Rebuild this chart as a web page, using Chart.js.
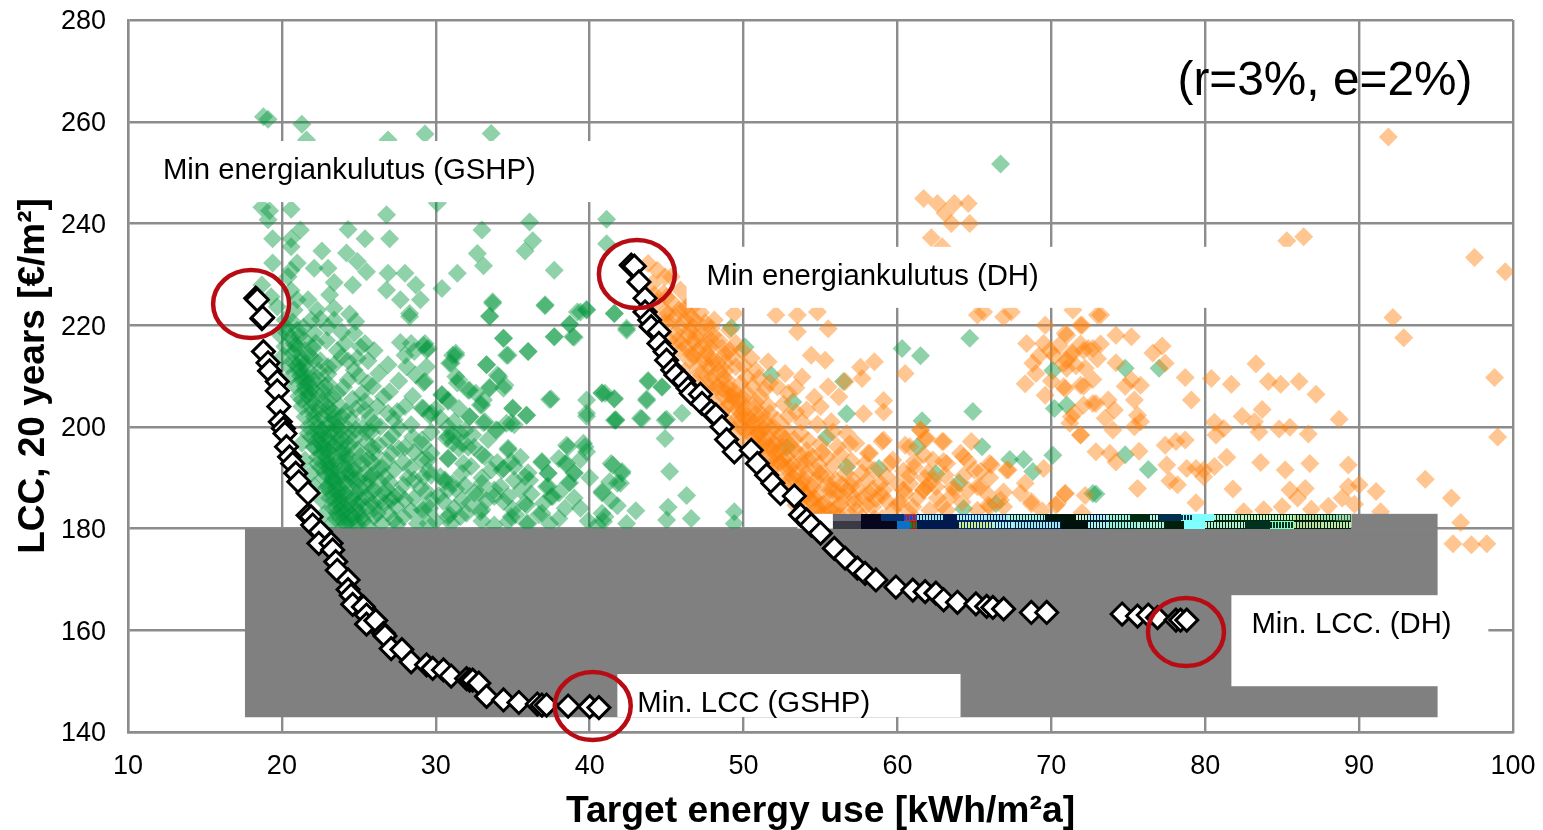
<!DOCTYPE html>
<html><head><meta charset="utf-8">
<style>html,body{margin:0;padding:0;background:#fff;overflow:hidden}canvas{display:block}</style>
<script src="https://cdn.jsdelivr.net/npm/chart.js@4"></script>
</head><body><canvas id="c" width="1543" height="830"></canvas>
<script>
const xTicks=[10,20,30,40,50,60,70,80,90,100];
const yTicks=[140,160,180,200,220,240,260,280];
const xTitle='Target energy use [kWh/m²a]';
const yTitle='LCC, 20 years [€/m²]';
const gshpCloud=[[18.8,261],[19.1,260.5],[21.3,259.5],[21.6,256.4],[26.9,256.4],[29.3,257.6],[33.6,257.7],[18.7,243.2],[19.2,242.5],[20.6,242.8],[26.8,241.7],[30.1,244],[19.1,240.7],[36.1,240.3],[41.1,240.8],[19.4,237],[20.6,237],[21.2,238.7],[20.6,235.4],[24.3,238.8],[25.4,237],[27,237],[33,238.7],[36.3,236.6],[35.8,234.6],[41.1,236],[22.6,234.6],[24.2,234.2],[32.7,234.1],[19.4,232.2],[20.6,230.8],[21,232.2],[22.1,231.2],[23,231.2],[24.9,232.5],[25.5,230.5],[33.1,231.7],[37.7,230.8],[20.4,229.5],[26.9,230.2],[28,230.2],[31.4,230.2],[23.4,228.4],[24.6,227.9],[26.8,226.9],[28.7,227.9],[30.4,227.2],[18.7,227.9],[19.3,225.6],[21,225],[21.7,225],[23.1,226],[27.7,225],[29,225],[33.7,224.6],[37.1,224],[39.8,223.1],[39.2,222.6],[19.7,223.6],[20.8,223],[22.3,223],[23.4,223.3],[28.3,222.3],[33.5,221.7],[41.6,222.3],[21.9,221],[23.4,221],[28.3,221.7],[38.7,220.2],[24.8,220.7],[21,219],[24.7,218.4],[34.4,217.4],[37.7,217.7],[39,217.6],[42.4,219],[21.5,217],[20.8,216.4],[22.1,218.4],[25.4,216.4],[24.1,216.4],[28.4,216.4],[29.2,216],[26,215],[20.2,215.8],[21.5,215],[28,214.1],[28.6,214.8],[29.5,215.4],[31.3,214.1],[34.7,214.1],[36,214.8],[22.1,213.2],[23.9,213.8],[24.9,213.5],[26.9,212.2],[28.1,211.8],[29.4,211.8],[30.9,212.5],[33.3,212.2],[20.8,212.5],[21.7,211.2],[23,211.8],[24.7,211.2],[31.3,209.9],[34,210.2],[21.3,209.2],[22.3,209.5],[24.3,209.2],[25.6,208.6],[29.2,208.7],[31.4,208.6],[34.5,208.2],[33.5,207.6],[21.5,207.2],[22.3,206.6],[23.6,206.6],[25.2,206.6],[26.6,205.9],[32.1,207.2],[30.4,206.3],[37.5,205.5],[40.8,206.6],[41.6,205.6],[21.3,205.3],[23,202.7],[23.9,202],[24.5,201.4],[25.4,203.3],[26.9,202.7],[28,204],[29.1,203.7],[29.7,202.7],[30.8,205.3],[33,204.3],[35,203.7],[35.9,202.3],[39.8,202.7],[32.2,202],[41.7,201.4],[26,200.7],[27.3,201.4],[28.4,200.4],[30.8,200],[33.2,201],[33.9,199.4],[34.9,200.7],[21.7,198.7],[22.6,199.4],[23.4,198.7],[24.3,198.1],[25.2,199.7],[26.9,197.4],[28,196],[29.1,197.4],[30.8,198.1],[31.7,196.8],[32.5,196],[34.7,195.5],[38.6,196.1],[39.7,196.1],[21.3,196.8],[22.1,196.1],[23,195.5],[23.9,194.8],[24.9,195.5],[26,194.8],[27.1,194.8],[29.1,193.5],[30.8,193.8],[33,194.5],[36.9,193.2],[38.4,192.8],[41.4,192.8],[21.5,193.5],[22.3,192.8],[23.2,192.8],[24.1,192.2],[25.2,192.8],[26.2,191.5],[27.3,191.5],[29.5,191.5],[31.7,190.9],[34.3,191.5],[35.1,192.2],[37.3,190.9],[39,190.9],[42.1,190.9],[21.9,190.9],[22.8,190.9],[23.6,190.2],[24.5,190.2],[25.6,189.6],[26.7,190.2],[28.6,189.6],[30.6,189.6],[33,188.9],[33.8,187.6],[35.8,190.2],[40.8,187.3],[41.8,188.9],[22.1,188.3],[23,188.3],[23.9,187.6],[24.9,187],[26,187.6],[27.3,186.3],[29.1,183.7],[30.8,187.6],[32.5,187],[34.7,186.3],[37.3,188.3],[38.6,188.9],[22.6,185.6],[23.4,185.6],[24.3,185],[25.4,184.3],[26.7,185],[28,185.6],[29.7,185.6],[31.7,185.6],[33,183.7],[35.8,185],[37.5,186.3],[22.8,183],[23.6,183],[24.7,182.3],[26,182.3],[27.3,181.7],[28.8,181],[30.8,182.3],[34.9,182.3],[36.7,182.7],[41,182.3],[40.5,180.7],[23.2,180.7],[24.1,180.7],[25.6,180.4],[33.8,180.7],[36,181],[19.9,218],[20.1,214],[20.4,212],[20.6,210],[20.9,208],[21.1,206],[21.3,204],[21.5,202],[21.7,200],[21.9,198],[22.1,196],[22.3,194],[22.5,192],[22.7,190],[22.9,188],[23.1,186],[23.3,184],[23.5,182],[20.7,214.5],[21,212],[21.2,210],[21.5,208],[21.7,206],[21.9,204],[22.1,202],[22.3,200],[22.5,198],[22.7,196],[22.9,194],[23.1,192],[23.3,190],[23.5,188],[23.7,186],[23.9,184],[24.1,182],[22.4,203.5],[23.2,200.5],[23.8,199.4],[22.9,198],[23.5,196.8],[24.4,196.4],[24.1,193.7],[24.7,191.5],[24.2,188.8],[25,188.2],[25.2,185.5],[24.9,183.5],[33.7,224.3],[33.5,221.8],[37.1,223.8],[39.4,222.6],[39.8,223],[41.6,222.3],[38.7,220.2],[42.4,219.4],[37.7,217.7],[38.9,217.7],[34.4,217.4],[34.6,214.1],[36,214.8],[29.3,216.4],[29.4,215.1],[31.1,214.1],[31.3,214.5],[31,212.5],[33.3,212.2],[34.1,209.9],[31.5,209.2],[29.3,208.9],[34.4,207.6],[33.5,207.8],[32.2,207.2],[43.8,209.1],[44.7,207.8],[30.4,206.3],[30.8,205],[32.6,206.6],[33.1,205.3],[37.4,205.4],[39.8,205.3],[40.8,206.7],[41.6,205.5],[43.7,205.5],[32.9,204.3],[35,203.6],[29.2,203.6],[32.2,202],[35.9,202.3],[29.6,202.3],[30.3,201.7],[33.1,200.8],[34.6,200.7],[35.1,200.4],[34,199.4],[39.8,202.1],[41.7,201.3],[43.3,201.7],[45,201.5],[46,202.7],[44.9,197.7],[31.1,198.4],[31.6,198.7],[30.7,197.7],[32.4,198.4],[31.1,196.8],[29.2,196.4],[34.7,195.8],[38.5,196.4],[39.6,196.8],[39.8,195.1],[31.5,195.8],[30.8,193.8],[33.2,194.1],[29.5,193.5],[31.8,192.8],[32.3,192.2],[34.9,193.2],[36.9,193],[38.5,192.8],[39.4,193.6],[41.5,192.5],[42.1,191.2],[45.2,191.2],[33.6,191.5],[34.4,191.8],[37.3,190.9],[39,191],[30.3,190.2],[29.2,190.2],[35.1,189.5],[36.1,189.5],[41.3,189.2],[42,188.9],[38.7,189],[30.6,189.2],[31.1,188.9],[37.2,188.2],[32.8,186.9],[35.5,187.6],[40.8,187],[46.3,186.5],[29.4,187.3],[33.8,186.3],[37.6,186.3],[34.4,185.3],[30.5,185.3],[38.4,184],[35.9,184.6],[32.9,183.3],[45.1,184.2],[29.2,183.6],[30.9,182.7],[31.6,182.3],[35.2,182.7],[36.9,183],[46.6,182],[40.8,183],[45,181.7],[40.9,181.4],[42.4,181],[37.4,181],[34.7,181.4],[35.9,181],[43.8,208.9],[44.7,207.9],[41,206.6],[43.7,205.2],[41.6,201.3],[43.4,201.6],[44.9,201.3],[49.4,183.3],[49.4,181],[50.1,215.7],[51.8,210.2],[53.2,204.9],[56.5,208.9],[56.7,202.6],[55.4,198],[52.8,196],[58.8,191.8],[56.7,192.1],[61.3,196.1],[61.6,201.2],[64.9,203],[60.3,215.4],[61.5,214],[64.7,217.4],[65.5,196.1],[67.3,193.6],[68.2,193.6],[68.8,191.2],[70.1,194.4],[64,189],[62.5,190.8],[70.2,203.6],[71,204.3],[70.1,211.1],[72.7,186.9],[64.3,183.9],[66.4,184.9],[74.8,211.5],[77,211.5],[74.8,194.5],[76.3,191.6],[72.9,186.8],[66.7,251.7],[49.2,219.5],[61.3,231.5]];
const gshpDense=[[20.9,216],[21.3,213.5],[21.8,214],[21.1,211],[21.6,209.5],[22.4,211],[22.8,208],[21.9,207.5],[22.6,205],[23.3,206],[22,205],[23,203.8],[23.8,204],[22.6,202],[23.4,201.8],[24.2,203],[24.8,199.5],[22.9,200.4],[23.6,200],[24.3,199.6],[25.8,199],[26.4,200],[22.3,197.4],[23.1,197],[23.9,196.8],[24.7,197.5],[25.5,197],[26.3,196.5],[27.2,198.4],[28.5,198],[22.6,194.9],[23.4,194.3],[24.3,193.6],[25.1,194.2],[25.9,193],[26.8,193.4],[27.9,193],[28.4,192],[22.9,192.3],[23.7,191.5],[24.6,192],[25.4,191],[26.2,189.7],[27,189],[27.9,188.5],[29,188],[23.3,189.6],[24.1,189],[25,189.6],[25.8,187.2],[26.6,187],[27.6,186.8],[28.6,186],[23.1,187.6],[23.8,186.5],[24.6,185.8],[25.5,186.2],[26.4,185.4],[27.4,184.4],[28.4,183.5],[29.6,184],[23.5,184.4],[24.2,183.7],[25.1,183],[26,184],[26.9,183],[27.9,182.3],[30,181.5],[23.8,182],[24.6,181],[25.3,181.6],[26.5,181],[27.5,180.8],[29.5,181],[31,181],[32,183],[33,181.5],[32.2,185],[33.3,185.5],[31.2,184],[30.2,186.5],[31.3,187.8],[28.2,190],[29.7,190.5],[27.6,195.7],[29.7,194.8],[28.6,195],[25.7,201.8],[27.6,199.8],[29.7,199],[31.2,201],[31.9,199.3],[30,203.5],[31.5,203.6],[27.5,203],[26.2,204],[24.6,205.5],[25.9,208],[27,206.9],[28.5,206],[24,207.8],[25,210],[26.3,210.5],[27.6,209],[28.7,210.2],[23.4,212.2],[24.3,213],[25.6,213],[23.6,215],[25.1,215.7],[27.7,216.6],[22.9,217],[22,215.5],[23.9,218.6],[23,219.6],[22.5,221.2],[24.4,222.2],[20.6,226.8],[20.2,221],[20.3,218.5],[32.1,196],[33.4,197.5],[33,190],[31.9,188.5],[34.2,188.2],[35,183.8],[37,185],[38,187],[39,186],[36.2,186.8],[38,182],[39.4,184],[39.9,181.5],[41.8,184.5],[43,183.5],[41.4,185.5],[40,190],[38,193.8],[36,191],[35.5,194],[34,193]];
const gshpCore=[[20.3,219.5],[20.6,217.5],[20.9,215],[21.2,212.7],[21.4,210.6],[21.7,208.6],[21.8,206.6],[22,203],[22.2,200.8],[22.4,198.6],[22.6,196.6],[22.8,195],[23,192.9],[23.2,191],[23.4,189],[23.6,187],[23.8,185],[24,183],[24.2,181],[22.7,206.8],[23,205],[23.3,203],[23.6,201],[23.8,198],[24,195.7],[24.2,194.5],[24.4,191],[24.6,189.5],[24.8,187],[24.9,184.8],[25.2,182.2],[24.9,180.8],[23.1,198.8],[23.4,196],[23.6,193],[23.9,190.5],[24.1,186.8],[24.4,184.5],[24.5,182.6],[25.6,193.8],[25.8,190.4],[25.9,185],[26.2,183],[25.5,188.6],[23,208.5],[22.5,213],[22.2,216.5],[23,210.4],[24.8,203.5],[25.4,205],[25.9,196],[25.5,199],[26.5,192],[26.8,187.8],[27.1,185.6],[22.1,209],[21.5,212.4],[21.1,217.8],[20.7,220.6],[21.4,219.6]];
const dhCloud=[[61.7,244.9],[62.6,243.9],[63.7,243.9],[64.6,243.9],[63.1,242],[63.5,240],[64.7,240],[62.2,237.2],[62.9,235.4],[43.8,232.1],[44.4,230.8],[44.9,229.5],[45.3,229.5],[44.1,228.2],[45.9,226.9],[44.8,226.2],[45.4,224.3],[46.3,223.6],[46.2,221],[46.7,219.7],[45.1,222.3],[45.9,219.7],[47.2,217.7],[46.6,221.6],[48.1,221],[49.4,222.3],[49.1,219],[52.1,222],[53.5,222],[54.8,222.6],[53.5,218.7],[55.5,219.3],[47,215],[47.8,215.7],[46.3,215.7],[47.4,213.1],[46.5,213.1],[48.3,212.5],[49.3,213.8],[49.5,211.8],[50.2,209.8],[47.2,210.5],[48,209.8],[48.9,209.2],[49.8,208.5],[50.8,211.1],[51.6,212.8],[48.3,207.9],[49.3,205.9],[50.2,206.6],[51.1,205.9],[52.2,207.9],[52.7,210.5],[53.8,209.8],[54.4,214.1],[55.3,213.1],[57.6,211.7],[58.5,212.8],[57.7,209.5],[55.5,207.9],[56.2,205.9],[56.6,208.9],[60.5,210.5],[48.9,203.9],[49.8,202.6],[50.4,201.3],[51.1,200.7],[52.2,201.3],[52.8,199.4],[49.8,200],[50.4,198.7],[51.3,197.4],[52.2,197.4],[53.7,198.7],[54.1,203.3],[55,204],[57.8,202.6],[59.1,205.2],[59.1,202.9],[51.1,195.4],[52,194.8],[52.8,194.1],[53.7,192.8],[54.5,194.1],[56.1,196.1],[55.4,194.1],[56.9,196.7],[58.2,194.8],[59.1,197.4],[59.7,193.5],[52,192.1],[53,190.8],[54.1,190.8],[55,190.8],[56,189.5],[57.1,189.5],[58,189.5],[59.3,190.2],[53.7,188.2],[54.5,188.2],[55.6,187.6],[56.7,187.6],[57.8,186.2],[59.1,187.6],[60.4,187.6],[54.3,185.6],[55.2,184.9],[56.3,184.9],[57.3,183.6],[58.4,184.3],[59.7,183.6],[54.8,183.9],[55.8,183.3],[61,184.3],[61.7,187.6],[61.5,199.4],[61.9,197.7],[60.8,196.1],[63,197.1],[62.3,193.5],[63.2,192.8],[61.1,192.1],[64.3,194.1],[65,191.5],[66.1,192.5],[65.4,188.2],[62.3,189.5],[63.6,188.2],[61.9,188.2],[67.1,191.5],[69.5,191.8],[70.9,186.9],[70.3,184.6],[68.7,184.9],[66.9,184.3],[65.9,184.6],[65.2,183.6],[63.2,183.6],[62.1,183.6],[65.2,222],[65.6,222.6],[66.9,221.6],[67.4,222.6],[73,222],[69.6,220],[72,220],[71,218],[68.4,216.4],[69.5,216.4],[69.9,215],[68.8,212.5],[71,213.1],[71.4,214.4],[72.1,215],[72.7,215.4],[68.3,208.5],[69.6,206.2],[70.9,207.5],[71.9,208.2],[72.7,204.6],[71.3,202],[71.9,198.4],[91.9,257],[85.3,236.6],[86.4,237.4],[97.5,233.3],[99.5,230.5],[71.4,223],[73.2,222],[71.9,220],[70.9,218.4],[74.2,218],[75.2,217.7],[92.2,221.5],[92.9,217.5],[77.2,215.9],[76.6,214.5],[77.4,212.5],[73.2,216.3],[72.4,215.4],[71.9,216.3],[71.3,214.5],[70.8,212.5],[74.2,212.6],[83.3,212.4],[78.7,209.7],[80.4,209.5],[81.7,208.4],[84.1,208.9],[84.9,208.4],[86.1,208.9],[98.8,209.7],[72.1,208],[72.7,209.3],[70.8,207.9],[74.8,208],[75.8,208.2],[75.2,209.2],[87.2,206.4],[79.1,205.3],[75.4,205.3],[72.9,204.6],[73.7,205.3],[74.1,203.3],[71.5,202.7],[72.1,204.3],[73.5,201.7],[75.6,202.3],[75.8,201],[71.2,200.7],[74,199.4],[71.9,198.4],[75.4,200],[80.6,200.9],[81.2,199.7],[80.7,198.4],[82.4,202.1],[83.2,201],[83.7,203.4],[83.5,199],[84.8,199.6],[85.5,199.9],[86.7,198.6],[88.7,201.5],[99,198],[72.9,195.1],[73.8,194.8],[74.2,193.1],[75.7,195.2],[77.4,196.4],[78.1,197.1],[78.7,197.4],[81.4,194],[83.6,193],[86.8,192.8],[89.3,192.5],[77.5,192.5],[78.8,191.8],[79.4,191.8],[79.9,191.5],[80.6,192.2],[85.2,191.5],[79.9,190.2],[77.7,189.4],[78.2,188.6],[75.6,187.9],[81.8,187.8],[85.5,187.6],[86.5,187.9],[90,188.6],[89.3,188.2],[91.1,187.3],[94.3,189.7],[96,186],[96.6,181.2],[70.9,186.9],[72.2,186.5],[70.4,185],[79.4,185.1],[86,186],[88.9,186],[89.7,184.8],[88,184.4],[83.8,183.7],[85,184.3],[86.9,183.8],[82.5,183.3],[91.4,183.3],[72,183.1],[96.1,177],[97.3,176.8],[98.3,177],[61.5,199.4],[60.5,196.4],[61.8,197.7],[62.9,197.1],[61.7,194.5],[61.1,193.2],[63,193.2],[64.1,194.8],[64.8,197.1],[64.6,193.2],[66,192.8],[67.2,191.5],[65.4,191.2],[60.8,190.5],[61.8,189.9],[62.5,188.2],[61.7,187.6],[60.5,186.9],[63.7,187.6],[65.2,188.2],[64.6,187.6],[68.3,188.9],[68.7,185.3],[66,184.3],[66.7,185.6],[58.2,186.9],[58.9,188.9],[59.5,192.8],[58.1,194.8],[59,197.1],[57.3,196.8],[56.7,198.7],[44.4,224.5],[44.9,222.5],[45.2,220.5],[45.6,218.5],[46,216.5],[46.6,214.3],[47.1,212],[47.6,210],[48.2,208],[48.7,206],[49.1,204.5],[49.6,203.5],[50,201.8],[50.4,200],[50.9,198.5],[51.3,196.5],[51.8,195.5],[52.2,193.5],[52.7,192],[53.2,190],[53.7,188],[54.1,186.5],[54.6,185],[55.2,183],[45.2,217],[45.9,215],[46.2,211],[46.9,209],[47.5,207],[48.1,205],[48.6,203],[49,201],[49.4,199.5],[50,197.5],[50.6,195],[51.2,193.5],[51.7,191.5],[52.2,189.5],[52.8,188],[53.2,186],[53.8,184.5],[54.4,182.5],[56.2,182.5],[57.2,186],[59,182],[60.2,185],[61,181.5]];
const dhDense=[[44.2,226],[45,225.5],[45.8,223],[46.5,225],[47.2,222.5],[44.9,220.5],[45.6,221.7],[46.4,218],[47.4,219.5],[48,218],[45.7,217],[46.8,216.6],[47.9,217],[48.6,215.5],[49.5,216.4],[46.8,214],[47.9,213.6],[48.8,214.3],[49.9,215],[50.5,213.5],[47.8,211.6],[48.8,211],[50,212],[51,209.6],[51.7,208.6],[47.7,208.2],[48.6,207.5],[49.4,207],[50.6,208],[51.4,207.4],[52.9,206.6],[53.4,207.7],[49,206.3],[49.9,204.7],[50.8,204.8],[51.6,204.1],[52.6,204.5],[53.4,202.9],[54.6,205.8],[49.6,201.6],[50.8,202.5],[51.7,202.7],[52.9,202.1],[53.8,201],[54.8,200.5],[55.7,201],[50.1,199.4],[51,199],[51.8,199.6],[52.4,198.6],[53.3,197.5],[54.2,197.3],[55,196.6],[55.8,199],[50.9,196.8],[51.7,196.2],[52.5,196],[53.3,195.6],[54.1,195.3],[55.1,195],[56.3,194.5],[57,193.3],[57.9,192.8],[51.8,193.7],[52.4,192.9],[53.2,192.6],[54,192.4],[54.9,192.5],[55.8,192.4],[56.6,190.8],[57.7,191],[58.5,191.5],[60.4,191.3],[53,189.4],[53.9,189.7],[54.7,189.5],[55.5,188.8],[56.4,188.6],[57.4,187.8],[58.4,187.8],[60,188.7],[60.8,188.8],[61.3,186],[54,186.8],[54.9,186.9],[55.7,186],[56.5,186.2],[57.2,185],[58.6,185.8],[59.3,185.4],[60,184.8],[60.8,183],[55,182.5],[55.6,181.8],[56.8,183.2],[57.7,182.2],[58.5,182],[60,181.5],[62.6,186],[63.5,186.4],[62.9,184.6],[64.2,185.2],[66.9,187.2],[65.9,186.6],[68,187],[69.4,183.5],[62,191],[63.1,190.5],[64.3,190.4],[66,190],[70.2,214],[71,211.5],[69.2,214],[69,210.5],[70,209],[70.5,216],[71.6,212],[72.2,211.5],[73,213.4]];
const dhCore=[[46.2,223],[46.8,221],[46.5,219],[46.9,217.6],[47.4,216],[47.6,214.4],[48,212.8],[48.4,211],[48.7,209.6],[49,207.8],[49.3,206.4],[49.6,205],[50,203.4],[50.3,202],[50.6,200.6],[51,198.6],[51.3,199.6],[51.6,197.8],[52,196.6],[52.3,195],[52.6,193.6],[53,192],[53.4,190.6],[53.8,189],[54.2,187.4],[54.6,186],[55,184.6],[55.6,183.6],[50,205.6],[50.7,203.7],[51.2,202.4],[51.4,201],[52,199.8],[52.7,197.6],[53,196.4],[53.6,194.6],[54.2,193.6],[54.8,191.2],[55.4,190.2],[55.8,187.6],[56.2,187],[46.9,224.2],[47.5,220.5],[47.9,219.4],[48.4,217],[48.8,212.6],[49.1,215],[53.4,184.6],[56,184],[57,188.4],[58,184.6],[59,186.5]];
const gshpFrontier=[[18.3,225.3],[18.4,225],[18.7,221.3],[18.75,221.5],[18.8,214.8],[19.1,212.6],[19.2,211],[19.7,208.9],[19.7,207.1],[19.8,204],[19.9,201],[20.1,199.7],[20.2,198.7],[20.3,196.1],[20.5,194.1],[20.7,192.8],[20.9,190.9],[21.1,189.2],[21.7,187],[21.7,182.6],[21.9,182.3],[22,180.7],[22.5,179.4],[22.4,177.1],[23.2,177.1],[23.3,175.8],[23.5,173.5],[23.6,171.8],[24.3,169.9],[24.3,168],[24.5,166.9],[24.6,165.1],[25.3,164.6],[25.5,163],[25.5,161.2],[26.1,161.9],[26.6,159.4],[26.7,158.9],[27.1,156.4],[27.8,156.2],[28.4,153.8],[29.4,153.2],[29.8,152.5],[30.5,152.2],[31,151],[32,150.5],[32.2,150.2],[32.4,150.2],[32.8,149.6],[33.3,147],[34.4,146.3],[35.4,145.8],[36.6,145.5],[36.9,145.3],[37.2,145.3],[38.6,145.1],[40,145],[40.6,144.8]];
const dhFrontier=[[42.7,231.8],[42.9,231.6],[43.2,228.5],[43.6,225.3],[43.6,222.6],[43.9,221],[44,219.7],[44.5,218.7],[44.5,216.4],[44.9,214.8],[45,213.1],[45.4,211.2],[45.6,210.2],[46.1,209],[46.4,207.6],[46.6,206.6],[47.2,206.4],[47.3,204.6],[47.9,203],[48.2,202.3],[48.6,200],[48.9,197.5],[49.4,195.1],[50.5,195.4],[50.9,192.8],[51.5,190.5],[51.9,188.9],[52.4,186.9],[53.3,186.4],[53.7,182.7],[54.1,181.7],[54.4,180.7],[55,179.1],[55.9,176.1],[56.6,174.2],[57.4,172.2],[57.9,171.2],[58.6,169.9],[59.9,168.5],[61,167.9],[61.8,167.6],[62.5,167.3],[63,166],[63.9,165.5],[65.1,165.2],[65.8,164.7],[66.2,164.5],[66.9,164.2],[68.7,163.5],[69.7,163.5],[74.6,163.2],[75.6,162.8],[76.3,163],[76.9,162.5],[78.1,162],[78.4,162],[78.8,162]];
const grayBoxes=[[17.6,180,95.1,142.9],[89.5,182.9,95.1,180],[53.5,182.9,55.8,180]];
const whiteBoxes=[[10.45,256.2,41.3,244.2],[46.3,235.4,88.75,223.4],[41.8,151.4,64.1,142.95],[81.7,166.9,98.4,149]];
const circles=[[18,224.15],[43.07,230.05],[40.2,145.1],[78.75,159.66]];
const labels=[['Min energiankulutus (GSHP)',12.27,250.3],['Min energiankulutus (DH)',47.6,229.45],['Min. LCC (GSHP)',43.1,145.5],['Min. LCC. (DH)',83,161]];
const noteText=['(r=3%, e=2%)',78.2,267.8];
const stripTop=[[55.8,57.6,'#6e6e78'],[57.6,58.9,'#05051e'],[58.9,60.4,'#06306e'],[60.4,61.3,'#c03020','#2040d0'],[61.3,63,'#001a50','#9fe8e8'],[63,63.9,'#001a50'],[63.9,65.7,'#06266a','#b0f0f0'],[65.7,67.2,'#001a50','#9fe8e8'],[67.2,69.6,'#00252a','#a8f0e0'],[69.6,71.6,'#00150a'],[71.6,72.4,'#00150a','#c0f0e0'],[72.4,73.6,'#021a40','#b0f0f0'],[73.6,75.1,'#00261a','#a0f0e0'],[75.1,76.4,'#002a10'],[76.4,77,'#00261a','#c0f0f0'],[77,78.4,'#043050'],[78.4,79.2,'#7fffff','#0a3040'],[79.2,80.6,'#7fffff'],[80.6,82.4,'#002a10','#b0f0d0'],[82.4,85.8,'#002a10','#c8f0c0'],[85.8,87.5,'#00200c','#b0e0a0'],[87.5,88.5,'#002a10','#a0e0b0'],[88.5,89.5,'#1a5a30','#a8d8b0']];
const stripBottom=[[55.8,57.6,'#3a3a44'],[57.6,60,'#06061c'],[60,60.8,'#0a70c8'],[60.8,61.3,'#c01010','#108030'],[61.3,64,'#001a50'],[64,66.2,'#06266a','#c8f090'],[66.2,67.5,'#00205a','#b0f0f0'],[67.5,70.6,'#001a50','#9fe8e8'],[70.6,72.4,'#00100c'],[72.4,73.6,'#001a20','#b0f0f0'],[73.6,75.6,'#00261a','#a0f0e0'],[75.6,77.4,'#002a10','#b0f0e0'],[77.4,78.6,'#00200c'],[78.6,80,'#7fffff'],[80,82.6,'#00200c','#b0f0d0'],[82.6,84.2,'#003020'],[84.2,85.8,'#7fffc0','#003020'],[85.8,87.6,'#00200c','#c0e0a0'],[87.6,89.5,'#00200c','#c0e8a8']];

const GRID='#8c8c8c';
const FONT='"Liberation Sans",Arial,sans-serif';
const overlay={
  id:'overlay',
  beforeDatasetDraw(chart,args){
    if(args.index!==2) return;
    const {ctx,scales:{x,y}}=chart;
    ctx.save();
    ctx.fillStyle='#808080';
    grayBoxes.forEach(b=>ctx.fillRect(x.getPixelForValue(b[0]),y.getPixelForValue(b[1]),x.getPixelForValue(b[2])-x.getPixelForValue(b[0]),y.getPixelForValue(b[3])-y.getPixelForValue(b[1])));
    const drawStrip=(segs,top,bot)=>{
      const yt=Math.round(y.getPixelForValue(top)),yb=Math.round(y.getPixelForValue(bot));
      segs.forEach(s=>{
        const a=Math.round(x.getPixelForValue(s[0])),e=Math.round(x.getPixelForValue(s[1]));
        ctx.fillStyle=s[2];ctx.fillRect(a,yt,e-a,yb-yt);
        if(s[3]){ctx.fillStyle=s[3];for(let px=a;px<e;px+=3){ctx.fillRect(px,yt+1,2,yb-yt-2);}}
      });
    };
    drawStrip(stripTop,182.9,181.5);
    drawStrip(stripBottom,181.5,180);
    ctx.fillStyle='#fff';
    ctx.fillRect(x.getPixelForValue(53.5),y.getPixelForValue(182.9),x.getPixelForValue(55.8)-x.getPixelForValue(53.5),y.getPixelForValue(180)-y.getPixelForValue(182.9));
    whiteBoxes.forEach(b=>ctx.fillRect(x.getPixelForValue(b[0]),y.getPixelForValue(b[1]),x.getPixelForValue(b[2])-x.getPixelForValue(b[0]),y.getPixelForValue(b[3])-y.getPixelForValue(b[1])));
    ctx.restore();
  },
  afterDatasetsDraw(chart){
    const {ctx,scales:{x,y}}=chart;
    ctx.save();
    ctx.strokeStyle='#b80c14';ctx.lineWidth=4.5;
    circles.forEach(c=>{ctx.beginPath();ctx.ellipse(x.getPixelForValue(c[0]),y.getPixelForValue(c[1]),38,34,0,0,Math.PI*2);ctx.stroke();});
    ctx.fillStyle='#000';ctx.textBaseline='middle';ctx.textAlign='left';
    ctx.font='29.3px '+FONT;
    labels.forEach(l=>ctx.fillText(l[0],x.getPixelForValue(l[1]),y.getPixelForValue(l[2])));
    ctx.font='47.8px '+FONT;
    ctx.fillText(noteText[0],x.getPixelForValue(noteText[1]),y.getPixelForValue(noteText[2]));
    ctx.restore();
  }
};
const toPts=a=>a.map(p=>({x:p[0],y:p[1]}));
new Chart(document.getElementById('c'),{
  type:'scatter',
  data:{datasets:[
    {label:'GSHP',data:toPts(gshpCloud.concat(gshpDense,gshpCore)),order:4,pointStyle:'rectRot',pointRadius:9.5,pointBorderWidth:0,pointBackgroundColor:'rgba(0,150,60,0.44)'},
    {label:'DH',data:toPts(dhCloud.concat(dhDense,dhCore)),order:3,pointStyle:'rectRot',pointRadius:9.5,pointBorderWidth:0,pointBackgroundColor:'rgba(255,128,10,0.45)'},
    {label:'GSHP frontier',data:toPts(gshpFrontier),order:2,pointStyle:'rectRot',pointRadius:11,pointBorderWidth:3,pointBackgroundColor:'#fff',pointBorderColor:'#000'},
    {label:'DH frontier',data:toPts(dhFrontier),order:1,pointStyle:'rectRot',pointRadius:11,pointBorderWidth:3,pointBackgroundColor:'#fff',pointBorderColor:'#000'}
  ]},
  options:{
    responsive:false,animation:false,
    layout:{padding:{top:20,right:30,left:0,bottom:0}},
    plugins:{legend:{display:false},tooltip:{enabled:false}},
    scales:{
      x:{type:'linear',min:10,max:100,
        afterBuildTicks(s){s.ticks=xTicks.map(v=>({value:v}));},
        afterFit(s){s.height=98;s.paddingLeft=0;s.paddingRight=0;},
        grid:{color:GRID,lineWidth:2.4,drawTicks:false},border:{color:GRID,width:2.4},
        ticks:{padding:18,maxRotation:0,autoSkip:false,color:'#000',font:{family:FONT,size:27}},
        title:{display:true,text:xTitle,color:'#000',font:{family:FONT,size:37.3,weight:'bold'},padding:{top:0,bottom:-4}}},
      y:{type:'linear',min:140,max:280,
        afterBuildTicks(s){s.ticks=yTicks.map(v=>({value:v}));},
        afterFit(s){s.width=128;s.paddingTop=0;s.paddingBottom=0;},
        grid:{color:GRID,lineWidth:2.4,drawTicks:false},border:{color:GRID,width:2.4},
        ticks:{padding:22,labelOffset:2,autoSkip:false,color:'#000',font:{family:FONT,size:27}},
        title:{display:true,text:yTitle,color:'#000',font:{family:FONT,size:37,weight:'bold'},padding:{top:12,bottom:0}}}
    }
  },
  plugins:[overlay]
});
</script></body></html>
